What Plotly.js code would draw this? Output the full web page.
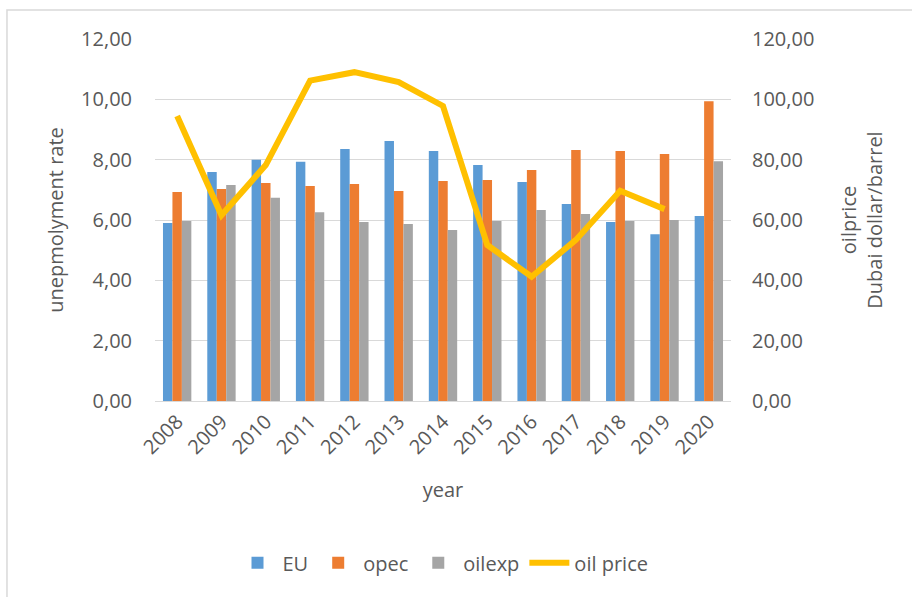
<!DOCTYPE html>
<html>
<head>
<meta charset="utf-8">
<script src="https://cdn.plot.ly/plotly-3.0.1.min.js"></script>
<style>html,body{margin:0;padding:0;background:#fff;}#chart{width:912px;height:597px;}</style>
</head>
<body>
<div id="chart"></div>
<script>
const years = ["2008","2009","2010","2011","2012","2013","2014","2015","2016","2017","2018","2019","2020"];
const eu     = [5.90, 7.59, 8.00, 7.93, 8.35, 8.62, 8.29, 7.82, 7.26, 6.53, 5.93, 5.53, 6.13];
const opec   = [6.93, 7.03, 7.23, 7.13, 7.19, 6.96, 7.29, 7.33, 7.66, 8.32, 8.29, 8.19, 9.94];
const oilexp = [5.97, 7.16, 6.74, 6.26, 5.93, 5.87, 5.67, 5.97, 6.33, 6.20, 5.97, 6.00, 7.95];
const oilPrice = [94.5, 61.6, 78.2, 106.2, 109.0, 105.7, 97.8, 51.7, 41.2, 53.4, 69.7, 63.6, null];

const fam = "Open Sans, sans-serif";
const font = {family: fam, size: 20, color: "#595959"};

const traces = [
  {type: "bar", name: "EU", x: years, y: eu, marker: {color: "#5B9BD5"}},
  {type: "bar", name: "opec", x: years, y: opec, marker: {color: "#ED7D31"}},
  {type: "bar", name: "oilexp", x: years, y: oilexp, marker: {color: "#A5A5A5"}},
  {type: "scatter", mode: "lines", name: "oil price", x: years, y: oilPrice, yaxis: "y2",
   line: {color: "#FFC000", width: 6}, connectgaps: false}
];

const layout = {
  width: 912, height: 597,
  margin: {l: 155, r: 181, t: 39, b: 196},
  paper_bgcolor: "#fff", plot_bgcolor: "#fff",
  font: font,
  separators: ",.",
  barmode: "group",
  bargap: 0.36,
  bargroupgap: 0,
  showlegend: true,
  legend: {orientation: "h", x: 0.5, xanchor: "center", y: -0.447, yanchor: "middle",
           font: font, itemwidth: 40},
  xaxis: {
    type: "category", tickangle: -45, showgrid: false,
    showline: true, linecolor: "#D9D9D9", linewidth: 1,
    tickfont: font,
    title: {text: "year", font: font, standoff: 24}
  },
  yaxis: {
    range: [0, 12], dtick: 2, tickformat: ".2f",
    gridcolor: "#D9D9D9", gridwidth: 1, zeroline: false,
    ticks: "", ticklabelstandoff: 22,
    tickfont: font,
    title: {text: "unepmolyment rate", font: font, standoff: 12}
  },
  yaxis2: {
    overlaying: "y", side: "right", range: [0, 120], dtick: 20, tickformat: ".2f",
    showgrid: false, zeroline: false, ticklabelstandoff: 20,
    tickfont: font,
    title: {text: "oilprice<br>Dubai dollar/barrel", font: font, standoff: 28}
  },
  shapes: [
    {type: "rect", xref: "paper", yref: "paper", x0: -0.257, x1: 1.32, y0: -0.56, y1: 1.08,
     line: {color: "#D9D9D9", width: 1.5}, fillcolor: "rgba(0,0,0,0)"}
  ]
};

Plotly.newPlot("chart", traces, layout, {displayModeBar: false, staticPlot: true});
</script>
</body>
</html>
